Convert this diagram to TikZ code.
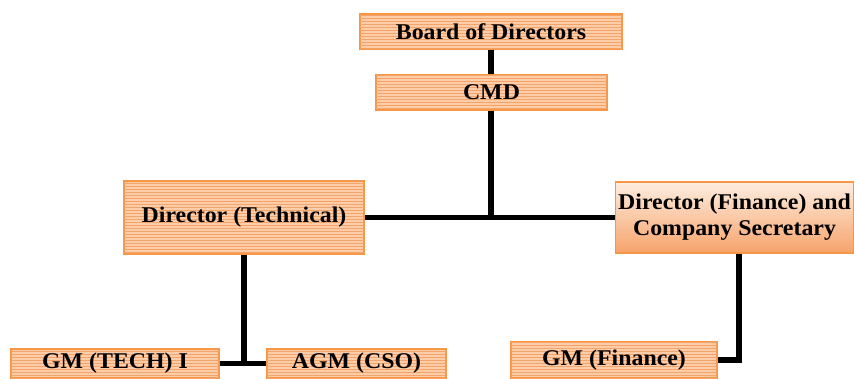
\documentclass[tikz,border=0pt]{standalone}
\usepackage{fontspec}
\setmainfont{Liberation Serif}[FakeStretch=1.06]
\usetikzlibrary{patterns}
\definecolor{boxline}{HTML}{F79646}
\definecolor{boxfill}{HTML}{FBCDA8}
\definecolor{stripe}{HTML}{F6A36A}
\begin{document}
\begin{tikzpicture}[x=1pt,y=-1pt,
  orgbox/.style={draw=boxline,line width=1.5pt,inner sep=0pt,
    font=\fontsize{22.5}{26}\selectfont\bfseries,align=center},
  striped/.style={orgbox,fill=boxfill,postaction={pattern=horizontal lines,pattern color=stripe}},
  graded/.style={orgbox,top color=boxfill!35,bottom color=stripe},
  link/.style={line width=5.5pt,black}]
\useasboundingbox (0,0) rectangle (854,379);
\node[striped,minimum width=262pt,minimum height=35pt] (board) at (491,31.5) {Board of Directors};
\node[striped,minimum width=231pt,minimum height=35pt] (cmd) at (491.5,92.5) {CMD};
\node[striped,minimum width=240pt,minimum height=73pt] (tech) at (244,217.5) {Director (Technical)};
\node[graded,minimum width=238pt,minimum height=71pt] (fin) at (734.5,217.5) {Director (Finance) and\\Company Secretary};
\node[striped,minimum width=208pt,minimum height=29pt] (gmt) at (115,363.5) {GM (TECH) I};
\node[striped,minimum width=179pt,minimum height=29pt] (agm) at (356.5,363.5) {AGM (CSO)};
\node[striped,minimum width=206pt,minimum height=36pt] (gmf) at (614,360) {GM (Finance)};
\coordinate (j1) at (491,217.5);
\coordinate (j2) at (244,363.5);
\draw[link] (board.south -| 491,0) -- (cmd.north -| 491,0);
\draw[link] (cmd.south -| 491,0) -- (j1);
\draw[link] (tech) -- (fin);
\draw[link] (tech.south) -- (j2);
\draw[link] (gmt) -- (agm);
\draw[link] (fin.south -| 739,0) |- (gmf.east);
\end{tikzpicture}
\end{document}
